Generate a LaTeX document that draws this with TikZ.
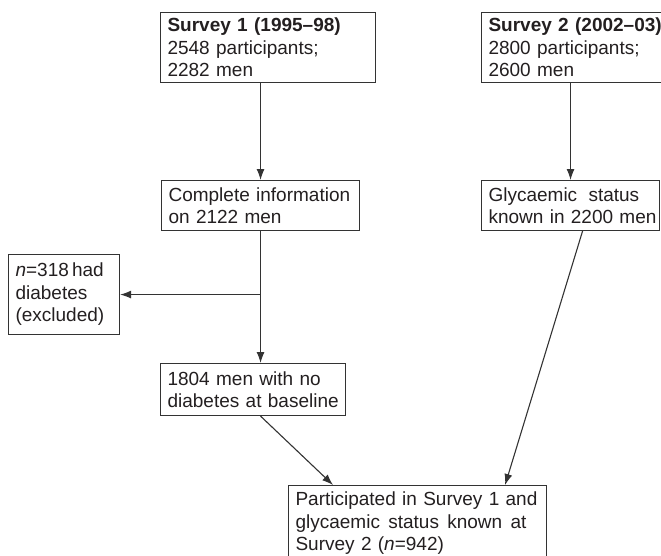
\documentclass[tikz,border=0pt]{standalone}
\usepackage{fontspec}
\setmainfont{Liberation Sans}
\usetikzlibrary{arrows.meta}
\definecolor{ink}{HTML}{231F20}
\definecolor{linec}{HTML}{333333}
\tikzset{
  box/.style={draw=linec, line width=1.1pt, anchor=north west, align=left,
    inner xsep=7pt, inner ysep=2pt, text=ink,
    font=\fontsize{19}{22.5}\selectfont},
  arr/.style={draw=linec, line width=1.1pt, -{Latex[length=11pt,width=8pt]}}
}
\begin{document}
\begin{tikzpicture}[x=1pt, y=-1pt]
\useasboundingbox (0,0) rectangle (661,555);
\clip (0,0) rectangle (661,555);
\node[box, text width=201pt, minimum height=70pt] (s1) at (160,12)
  {\mbox{\textbf{Survey 1 (1995–98)}}\\\mbox{2548 participants;}\\\mbox{2282 men}};
\node[box, text width=196pt, minimum height=70pt] (s2) at (481,12)
  {\mbox{\textbf{Survey 2 (2002–03)}}\\\mbox{2800 participants;}\\\mbox{2600 men}};
\node[box, text width=184pt, minimum height=50pt] (comp) at (161,180)
  {\mbox{Complete information}\\\mbox{on 2122 men}};
\node[box, text width=164pt, minimum height=50pt] (glyc) at (481,180)
  {\mbox{Glycaemic\hspace{5pt} status}\\\mbox{known in 2200 men}};
\node[box, text width=97pt, minimum height=80pt] (n318) at (8,254)
  {\mbox{\textit{n}=318\,had}\\\mbox{diabetes}\\\mbox{(excluded)}};
\node[box, text width=171pt, minimum height=52pt] (d1804) at (160,363)
  {\mbox{1804 men with no}\\\mbox{diabetes at baseline}};
\node[box, text width=244pt, minimum height=76pt] (final) at (288,485)
  {\mbox{Participated in Survey 1 and}\\\mbox{glycaemic\hspace{2pt} status\hspace{2pt} known\hspace{2pt} at}\\\mbox{Survey 2 (\textit{n}=942)}};
\draw[arr] (comp.north |- s1.south) -- (comp.north);
\draw[arr] (glyc.north |- s2.south) -- (glyc.north);
\draw[arr] (comp.south) -- (comp.south |- d1804.north);
\draw[arr] (comp.south |- n318.east) -- (n318.east);
\draw[arr] (comp.south |- d1804.south) -- ([xshift=45pt]final.north west);
\draw[arr] ([xshift=12pt]glyc.south) -- ([xshift=-42pt]final.north east);
\end{tikzpicture}
\end{document}
